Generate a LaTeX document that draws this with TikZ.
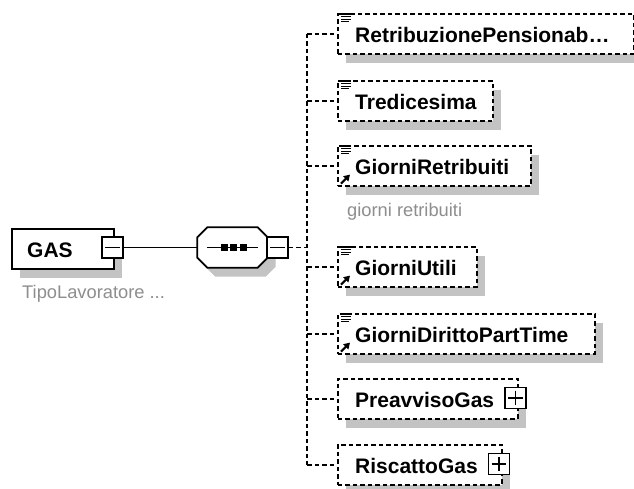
\documentclass[tikz,border=0pt]{standalone}
\usepackage{fontspec}
\setmainfont{Liberation Sans}
\usetikzlibrary{arrows.meta,shadows,calc}
\definecolor{shadowgray}{HTML}{C3C3C3}
\definecolor{labelgray}{HTML}{8E8E8E}
\tikzset{
  boxshadow/.style={general shadow={fill=shadowgray, shadow xshift=8pt, shadow yshift=-9pt}},
  optbox/.style={rectangle, draw=black, line width=1.6pt, dash pattern=on 4.5pt off 3pt,
    fill=white, inner sep=0pt, anchor=north west, minimum height=40pt, boxshadow},
  mainbox/.style={rectangle, draw=black, line width=2pt, fill=white, inner sep=0pt,
    anchor=north west, minimum height=40pt, boxshadow},
  elname/.style={inner sep=0pt, anchor=base west, font=\bfseries\fontsize{21}{25}\selectfont, text=black},
  graylabel/.style={inner sep=0pt, anchor=base west, font=\fontsize{18.3}{22}\selectfont, text=labelgray},
  pmbox/.style={rectangle, draw=black, line width=1.6pt, fill=white, inner sep=0pt, minimum width=21pt, minimum height=21pt},
  pmline/.style={line width=1.6pt},
  conn/.style={line width=1.6pt},
  dconn/.style={line width=1.6pt, dash pattern=on 4.5pt off 3pt},
  seqdot/.style={rectangle, fill=black, inner sep=0pt, minimum size=7pt},
  iconline/.style={line width=1.3pt},
  iconarrow/.style={line width=2.2pt, -{Triangle[length=6pt,width=7pt]}}
}
\newcommand\lineicon[1]{%
  \begin{scope}[shift={(#1.north west)}]
    \draw[iconline] (3,1) -- (14,1);
    \draw[iconline] (4,3.6) -- (14,3.6);
    \draw[iconline] (4,6.2) -- (14,6.2);
    \draw[iconline] (4,8.8) -- (12,8.8);
  \end{scope}}
\newcommand\refarrow[1]{%
  \begin{scope}[shift={(#1.south west)}]
    \draw[iconarrow] (4,-3) -- (13,-12);
  \end{scope}}
\begin{document}
\begin{tikzpicture}[x=1pt,y=-1pt]
\useasboundingbox[fill=white] (0,0) rectangle (634,488);

% root element
\node[mainbox, minimum width=102pt] (gas) at (11,228) {};
\node[elname] (gast) at (27,257) {GAS};
\node[graylabel] (gasl) at (22,298) {TipoLavoratore ...};
\node[pmbox] (gm) at (112.5,247.5) {};
\draw[pmline] ([xshift=4pt]gm.west) -- ([xshift=-4pt]gm.east);

% sequence compositor
\node[rectangle, inner sep=0pt, minimum width=70pt, minimum height=40pt] (seq) at (232.5,247.5) {};
\fill[shadowgray, transform canvas={shift={(8pt,-9pt)}}]
  ([xshift=10pt]seq.north west) -- ([xshift=-10pt]seq.north east) -- ([yshift=-10pt]seq.north east)
  -- ([yshift=10pt]seq.south east) -- ([xshift=-10pt]seq.south east) -- ([xshift=10pt]seq.south west)
  -- ([yshift=10pt]seq.south west) -- ([yshift=-10pt]seq.north west) -- cycle;
\draw[line width=1.8pt, fill=white]
  ([xshift=10pt]seq.north west) -- ([xshift=-10pt]seq.north east) -- ([yshift=-10pt]seq.north east)
  -- ([yshift=10pt]seq.south east) -- ([xshift=-10pt]seq.south east) -- ([xshift=10pt]seq.south west)
  -- ([yshift=10pt]seq.south west) -- ([yshift=-10pt]seq.north west) -- cycle;
\draw[conn] ([xshift=10pt]seq.west) -- ([xshift=-10pt]seq.east);
\node[seqdot] (d1) at (224,247.5) {};
\node[seqdot] (d2) at (233.5,247.5) {};
\node[seqdot] (d3) at (243,247.5) {};
\node[pmbox] (sm) at (277.5,247.5) {};
\draw[pmline] ([xshift=4pt]sm.west) -- ([xshift=-4pt]sm.east);

\draw[conn] (gm.east) -- (seq.west);
\coordinate (v) at (307,247.5);

% children
\node[optbox, minimum width=296pt] (c1) at (337,13) {};
\node[elname] (c1t) at (355,42) {RetribuzionePensionab…};
\lineicon{c1}

\node[optbox, minimum width=155pt] (c2) at (337,80) {};
\node[elname] (c2t) at (355,109) {Tredicesima};
\lineicon{c2}

\node[optbox, minimum width=193pt] (c3) at (337,145) {};
\node[elname] (c3t) at (355,174) {GiorniRetribuiti};
\lineicon{c3}
\refarrow{c3}
\node[graylabel] (c3l) at (347,216) {giorni retribuiti};

\node[optbox, minimum width=139pt] (c4) at (337,246) {};
\node[elname] (c4t) at (355,275) {GiorniUtili};
\lineicon{c4}
\refarrow{c4}

\node[optbox, minimum width=257pt] (c5) at (337,313) {};
\node[elname] (c5t) at (355,342) {GiorniDirittoPartTime};
\lineicon{c5}
\refarrow{c5}

\node[optbox, minimum width=180pt] (c6) at (337,378) {};
\node[elname] (c6t) at (355,407) {PreavvisoGas};
\node[pmbox] (p6) at (515.5,398) {};
\draw[pmline] ([xshift=4pt]p6.west) -- ([xshift=-4pt]p6.east);
\draw[pmline] ([yshift=-4pt]p6.north) -- ([yshift=4pt]p6.south);

\node[optbox, minimum width=164pt] (c7) at (337,444) {};
\node[elname] (c7t) at (355,473) {RiscattoGas};
\node[pmbox] (p7) at (499,464) {};
\draw[pmline] ([xshift=4pt]p7.west) -- ([xshift=-4pt]p7.east);
\draw[pmline] ([yshift=-4pt]p7.north) -- ([yshift=4pt]p7.south);

% connectors
\draw[dconn] (sm.east) -- (v);
\draw[dconn] (c1.west -| v) -- (c7.west -| v);
\foreach \c in {c1,c2,c3,c4,c5,c6,c7}{
  \draw[dconn] (\c.west -| v) -- (\c.west);
}
\end{tikzpicture}
\end{document}
